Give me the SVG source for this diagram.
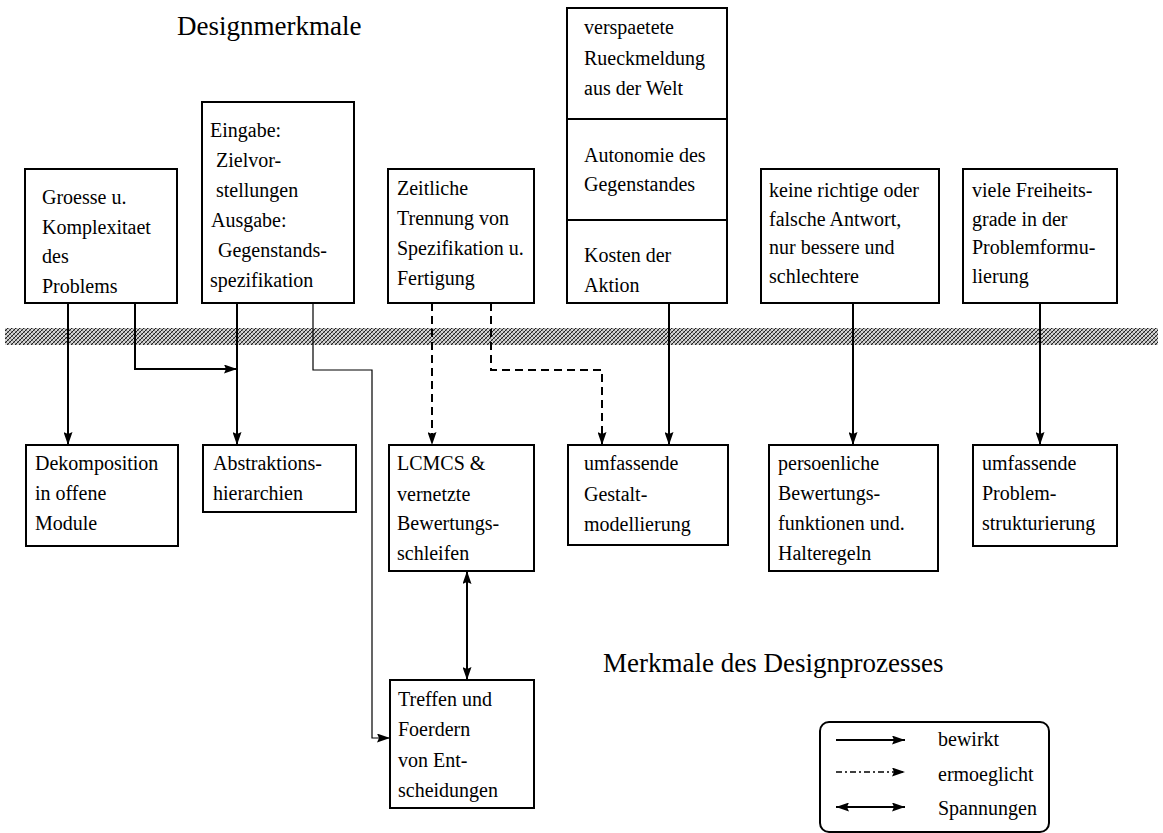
<svg xmlns="http://www.w3.org/2000/svg" width="1163" height="833" viewBox="0 0 1163 833">
  <style>
    .box { fill: #fff; stroke: #000; stroke-width: 2; }
    .t { font-family: "Liberation Serif", "Times New Roman", serif; font-size: 20px; fill: #000; }
    .title { font-family: "Liberation Serif", "Times New Roman", serif; font-size: 27px; fill: #000; }
    .ln { fill: none; stroke: #000; stroke-width: 2; }
    .thin { fill: none; stroke: #000; stroke-width: 1.2; }
    .dash { fill: none; stroke: #000; stroke-width: 2; stroke-dasharray: 8 5; }
  </style>
  <defs>
    <pattern id="hatch" width="4" height="4" patternUnits="userSpaceOnUse">
      <rect width="4" height="4" fill="#d4d4d4"/>
      <path d="M0 4 L4 0 M-1 1 L1 -1 M3 5 L5 3" stroke="#222" stroke-width="1"/>
      <path d="M0 0 L4 4 M-1 3 L1 5 M3 -1 L5 1" stroke="#666" stroke-width="0.7"/>
    </pattern>
    <marker id="ah" viewBox="0 0 13 9" refX="13" refY="4.5" markerWidth="13" markerHeight="9" markerUnits="userSpaceOnUse" orient="auto-start-reverse">
      <path d="M0 0 L13 4.5 L0 9 L2 4.5 Z" fill="#000"/>
    </marker>
  </defs>

  <rect width="1163" height="833" fill="#fff"/>

  <!-- headings -->
  <text class="title" x="177" y="35">Designmerkmale</text>
  <text class="title" x="603" y="672">Merkmale des Designprozesses</text>

  <!-- boundary band between design traits and process traits -->
  <rect x="5" y="328" width="1153" height="17" fill="url(#hatch)"/>

  <!-- upper row: design traits -->
  <g id="groesse">
    <rect class="box" x="25" y="169" width="152" height="134"/>
    <text class="t" x="42" y="204">Groesse u.</text>
    <text class="t" x="42" y="234">Komplexitaet</text>
    <text class="t" x="42" y="263">des</text>
    <text class="t" x="42" y="293">Problems</text>
  </g>
  <g id="eingabe">
    <rect class="box" x="202" y="102" width="152" height="201"/>
    <text class="t" x="210" y="137">Eingabe:</text>
    <text class="t" x="216" y="167">Zielvor-</text>
    <text class="t" x="216" y="197">stellungen</text>
    <text class="t" x="211" y="227">Ausgabe:</text>
    <text class="t" x="218" y="257">Gegenstands-</text>
    <text class="t" x="210" y="287">spezifikation</text>
  </g>
  <g id="zeitliche">
    <rect class="box" x="388" y="169" width="146" height="134"/>
    <text class="t" x="397" y="195">Zeitliche</text>
    <text class="t" x="397" y="225">Trennung von</text>
    <text class="t" x="397" y="255">Spezifikation u.</text>
    <text class="t" x="397" y="285">Fertigung</text>
  </g>
  <g id="welt">
    <rect class="box" x="567" y="8" width="160" height="295"/>
    <line class="ln" x1="567" y1="119" x2="727" y2="119"/>
    <line class="ln" x1="567" y1="220" x2="727" y2="220"/>
    <text class="t" x="584" y="34">verspaetete</text>
    <text class="t" x="584" y="65">Rueckmeldung</text>
    <text class="t" x="584" y="95">aus der Welt</text>
    <text class="t" x="584" y="162">Autonomie des</text>
    <text class="t" x="584" y="191">Gegenstandes</text>
    <text class="t" x="584" y="262">Kosten der</text>
    <text class="t" x="584" y="292">Aktion</text>
  </g>
  <g id="antwort">
    <rect class="box" x="761" y="169" width="178" height="134"/>
    <text class="t" x="769" y="197">keine richtige oder</text>
    <text class="t" x="769" y="226">falsche Antwort,</text>
    <text class="t" x="769" y="254">nur bessere und</text>
    <text class="t" x="769" y="283">schlechtere</text>
  </g>
  <g id="freiheit">
    <rect class="box" x="963" y="169" width="154" height="134"/>
    <text class="t" x="972" y="197">viele Freiheits-</text>
    <text class="t" x="972" y="226">grade in der</text>
    <text class="t" x="972" y="254">Problemformu-</text>
    <text class="t" x="972" y="283">lierung</text>
  </g>

  <!-- lower row: process traits -->
  <g id="dekomposition">
    <rect class="box" x="26" y="445" width="152" height="101"/>
    <text class="t" x="35" y="470">Dekomposition</text>
    <text class="t" x="35" y="500">in offene</text>
    <text class="t" x="35" y="530">Module</text>
  </g>
  <g id="abstraktion">
    <rect class="box" x="203" y="445" width="153" height="67"/>
    <text class="t" x="213" y="470">Abstraktions-</text>
    <text class="t" x="213" y="500">hierarchien</text>
  </g>
  <g id="lcmcs">
    <rect class="box" x="389" y="445" width="145" height="126"/>
    <text class="t" x="397" y="470">LCMCS &amp;</text>
    <text class="t" x="397" y="501">vernetzte</text>
    <text class="t" x="397" y="530">Bewertungs-</text>
    <text class="t" x="397" y="560">schleifen</text>
  </g>
  <g id="gestalt">
    <rect class="box" x="568" y="445" width="160" height="100"/>
    <text class="t" x="584" y="470">umfassende</text>
    <text class="t" x="584" y="501">Gestalt-</text>
    <text class="t" x="584" y="531">modellierung</text>
  </g>
  <g id="bewertung">
    <rect class="box" x="769" y="445" width="169" height="126"/>
    <text class="t" x="778" y="470">persoenliche</text>
    <text class="t" x="778" y="500">Bewertungs-</text>
    <text class="t" x="778" y="530">funktionen und.</text>
    <text class="t" x="778" y="560">Halteregeln</text>
  </g>
  <g id="strukturierung">
    <rect class="box" x="973" y="445" width="144" height="101"/>
    <text class="t" x="982" y="470">umfassende</text>
    <text class="t" x="982" y="500">Problem-</text>
    <text class="t" x="982" y="530">strukturierung</text>
  </g>
  <g id="treffen">
    <rect class="box" x="390" y="680" width="144" height="128"/>
    <text class="t" x="398" y="706">Treffen und</text>
    <text class="t" x="398" y="736">Foerdern</text>
    <text class="t" x="398" y="767">von Ent-</text>
    <text class="t" x="398" y="797">scheidungen</text>
  </g>

  <!-- connectors -->
  <g id="connectors">
    <path class="ln" d="M68 303 V445" marker-end="url(#ah)"/>
    <path class="ln" d="M135 303 V369 H237" marker-end="url(#ah)"/>
    <path class="ln" d="M237 303 V445" marker-end="url(#ah)"/>
    <path class="thin" d="M313 303 V370 H372 V738 H390" marker-end="url(#ah)"/>
    <path class="dash" d="M432 303 V445" marker-end="url(#ah)"/>
    <path class="dash" d="M491 303 V370 H602 V445" marker-end="url(#ah)"/>
    <path class="ln" d="M669 303 V445" marker-end="url(#ah)"/>
    <path class="ln" d="M853 303 V445" marker-end="url(#ah)"/>
    <path class="ln" d="M1040 303 V445" marker-end="url(#ah)"/>
    <path class="ln" d="M467 571 V680" marker-start="url(#ah)" marker-end="url(#ah)"/>
  </g>

  <!-- legend -->
  <g id="legend">
    <rect x="820" y="722" width="229" height="110" rx="9" fill="#fff" stroke="#000" stroke-width="2"/>
    <path class="ln" d="M836 740 H905" marker-end="url(#ah)"/>
    <path d="M836 772 H905" fill="none" stroke="#000" stroke-width="1.6" stroke-dasharray="6 3 2 3" marker-end="url(#ah)"/>
    <path class="ln" d="M836 807 H905" marker-start="url(#ah)" marker-end="url(#ah)"/>
    <text class="t" x="938" y="746">bewirkt</text>
    <text class="t" x="938" y="781">ermoeglicht</text>
    <text class="t" x="938" y="815">Spannungen</text>
  </g>
</svg>
